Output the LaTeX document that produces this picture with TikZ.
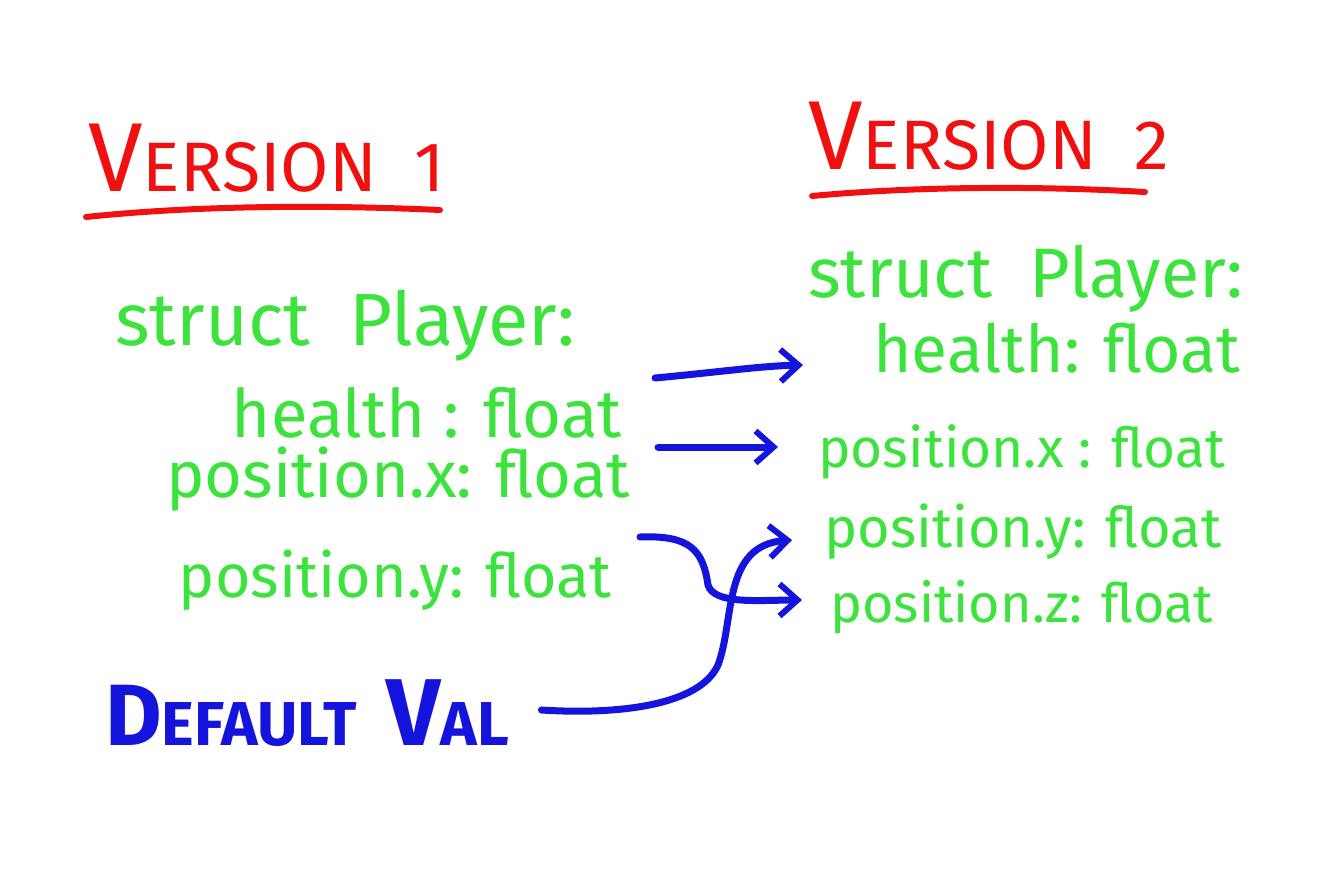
\documentclass[tikz,border=0pt]{standalone}
\usepackage{fontspec}
\setmainfont{Fira Sans}
\usetikzlibrary{arrows.meta}
\definecolor{hred}{HTML}{F01010}
\definecolor{hgreen}{HTML}{3DE33D}
\definecolor{hblue}{HTML}{1414DC}
\newcommand{\fs}[1]{\fontsize{#1}{#1}\selectfont}
\tikzset{
  title/.style={text=hred, inner sep=0pt, font=\fs{70}},
  code/.style={text=hgreen, inner sep=0pt},
  note/.style={text=hblue, inner sep=0pt, font=\fs{62}\bfseries},
  uline/.style={draw=hred, line width=6pt, line cap=round},
  link/.style={draw=hblue, line width=7pt, line cap=round, -{Straight Barb[length=18pt,width=32pt,line width=6pt]}}
}
\begin{document}
\begin{tikzpicture}[x=1pt,y=-1pt]
\useasboundingbox (0,0) rectangle (1334,869);
% titles
\node[title, anchor=base west] (v1) at (88,192) {{\fs{98}V}ERSION\ \ 1};
\coordinate (v1a) at (86,217); \coordinate (v1b) at (440,210);
\draw[uline] (v1a) .. controls (200,205) and (330,205) .. (v1b);
\node[title, anchor=base west] (v2) at (808,170) {{\fs{98}V}ERSION\ \ 2};
\coordinate (v2a) at (812,196); \coordinate (v2b) at (1145,192);
\draw[uline] (v2a) .. controls (920,186) and (1040,186) .. (v2b);
% left struct
\node[code, font=\fs{74}, anchor=base west] (ls) at (115,345) {struct\ \ Player:};
\node[code, font=\fs{67}, anchor=base east] (lh) at (622,437) {health : float};
\node[code, font=\fs{65}, anchor=base east] (lx) at (630,497) {position.x: float};
\node[code, font=\fs{61}, anchor=base east] (ly) at (612,597) {position.y: float};
% right struct
\node[code, font=\fs{70}, anchor=base west] (rs) at (808,298) {struct\ \ Player:};
\node[code, font=\fs{66}, anchor=base east] (rh) at (1240,372) {health: float};
\node[code, font=\fs{55}, anchor=base west] (rx) at (818,467) {position.x : float};
\node[code, font=\fs{56}, anchor=base west] (ry) at (824,547) {position.y: float};
\node[code, font=\fs{54}, anchor=base west] (rz) at (830,622) {position.z: float};
% default
\node[note, anchor=base west] (dv) at (105,745) {{\fs{87}D}EFAULT\ \ {\fs{95}V}AL};
% arrows
\draw[link] ([shift={(33,-59)}]lh.base east) .. controls (720,372) and (760,366) .. ([shift={(-70,-7)}]rh.base west);
\draw[link] ([shift={(28,-50)}]lx.base east) -- ([shift={(-40,-20)}]rx.base west);
\draw[link] ([shift={(28,-60)}]ly.base east) .. controls (690,535) and (703,550) .. (708,585) .. controls (714,605) and (760,600) .. ([shift={(-28,-22)}]rz.base west);
\draw[link] ([shift={(32,-35)}]dv.base east) .. controls (620,715) and (700,705) .. (718,665) .. controls (735,620) and (722,545) .. ([shift={(-32,-7)}]ry.base west);
\end{tikzpicture}
\end{document}
